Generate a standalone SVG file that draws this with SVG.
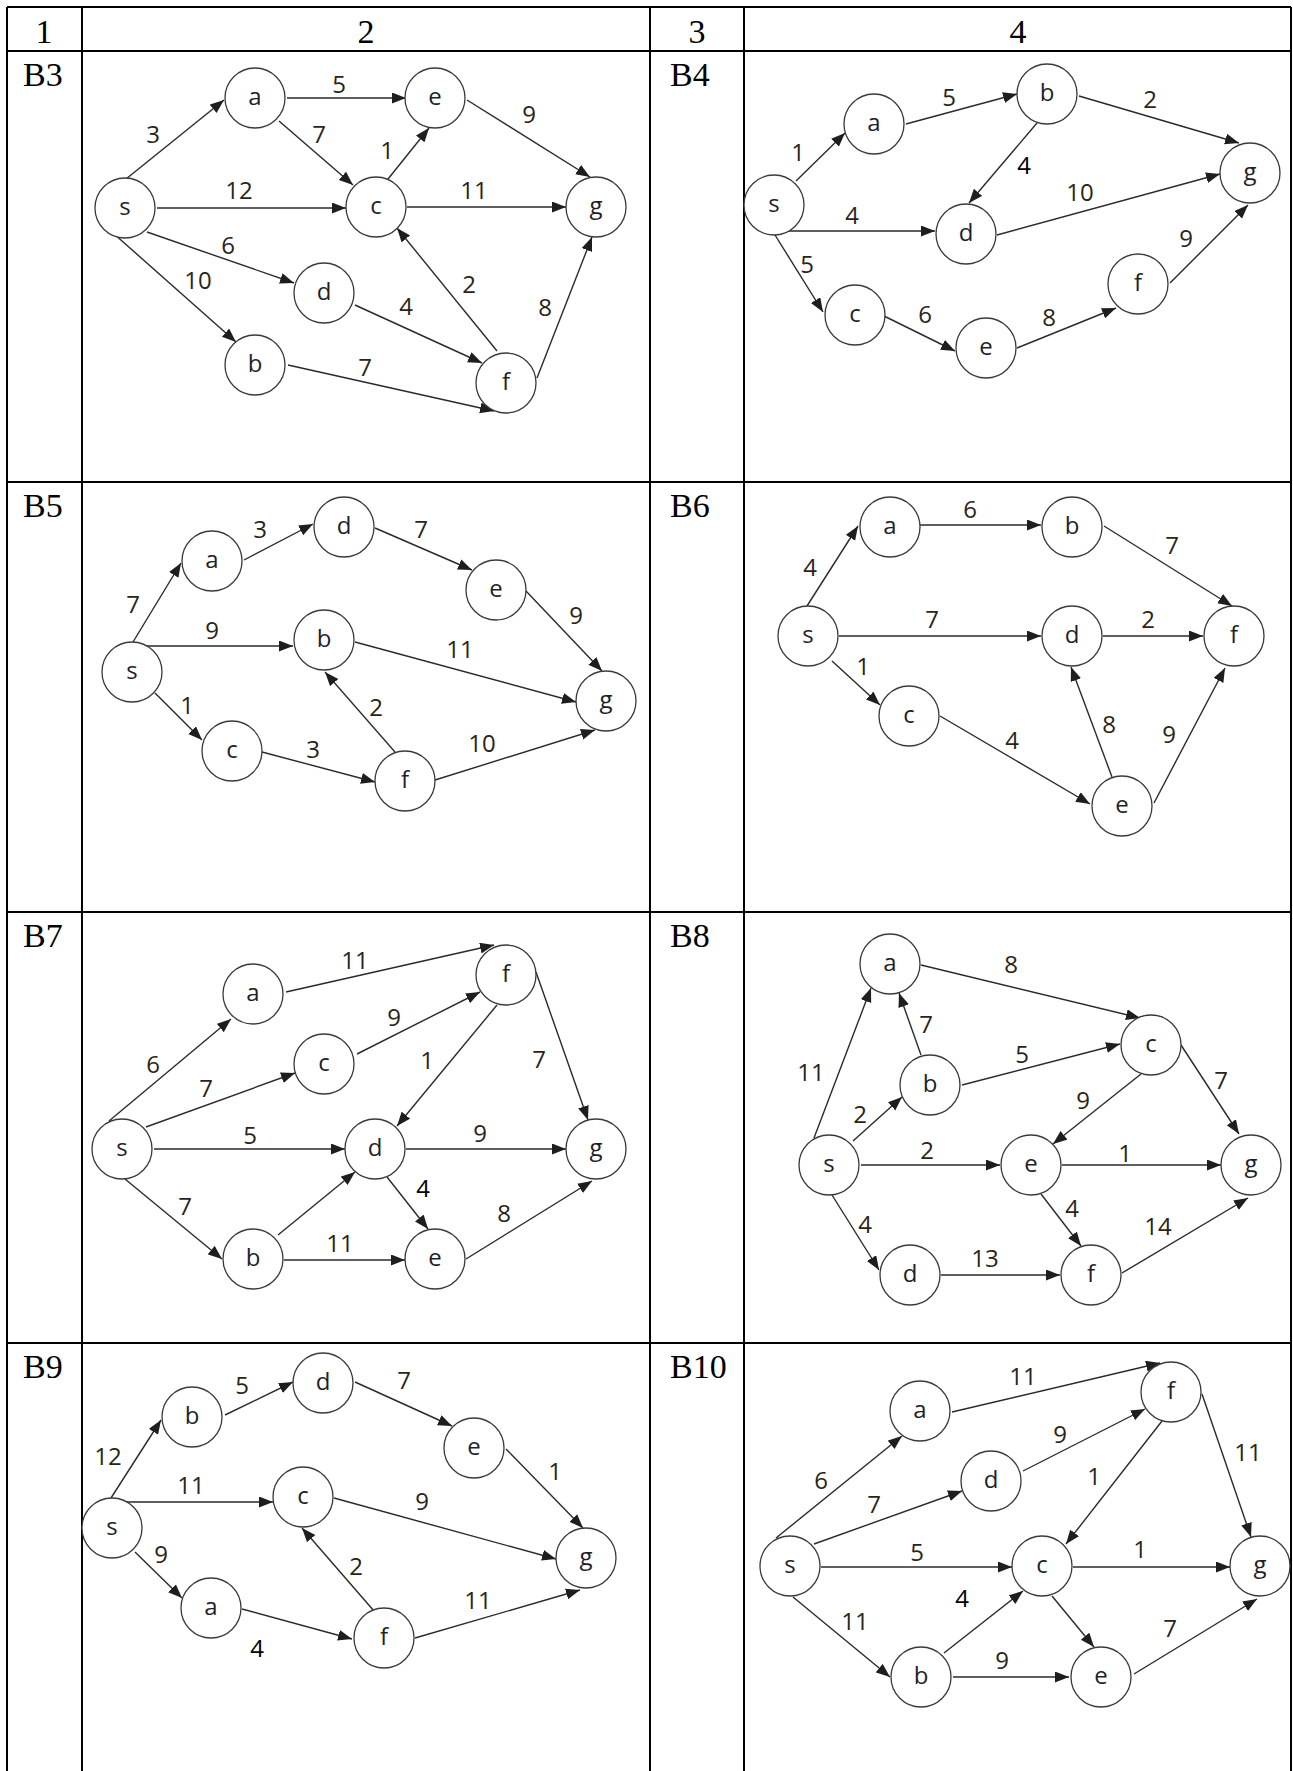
<svg xmlns="http://www.w3.org/2000/svg" width="1293" height="1771" viewBox="0 0 1293 1771">
<defs>
<marker id="arr" markerUnits="userSpaceOnUse" markerWidth="15" markerHeight="12" refX="14" refY="5.5" orient="auto"><path d="M0,0 L14,5.5 L0,11 z" fill="#1e1e1e"/></marker>
<style>
.grid{stroke:#000;stroke-width:2;fill:none}
.hd{font-family:"Liberation Serif","Times New Roman",serif;font-size:34px;fill:#000}
.node circle{fill:#fff;stroke:#3a3a3a;stroke-width:1.3}
.node text{font-family:"Open Sans","Liberation Sans",sans-serif;font-size:24px;fill:#1f1f2a;text-anchor:middle}
.edges line{stroke:#2a2a2a;stroke-width:1.4;marker-end:url(#arr)}
.lbl{font-family:"Open Sans","Liberation Sans",sans-serif;font-size:24px;fill:#2a2418;text-anchor:middle}
.lbl.k{fill:#000}
</style>
</defs>
<rect width="1293" height="1771" fill="#fff"/>
<g id="table">
<path class="grid" d="M7,7 H1291 M7,51 H1291 M7,482 H1291 M7,912 H1291 M7,1343 H1291 M7,7 V1771 M82,7 V1771 M650,7 V1771 M744,7 V1771 M1291,7 V1771"/>
<text class="hd" x="44" y="43" text-anchor="middle">1</text>
<text class="hd" x="366" y="43" text-anchor="middle">2</text>
<text class="hd" x="697" y="43" text-anchor="middle">3</text>
<text class="hd" x="1018" y="43" text-anchor="middle">4</text>
<text class="hd" x="23" y="86">B3</text>
<text class="hd" x="670" y="86">B4</text>
<text class="hd" x="23" y="517">B5</text>
<text class="hd" x="670" y="517">B6</text>
<text class="hd" x="23" y="947">B7</text>
<text class="hd" x="670" y="947">B8</text>
<text class="hd" x="23" y="1378">B9</text>
<text class="hd" x="670" y="1378">B10</text>
</g>

<!-- B3 -->
<g id="b3">
<g class="edges" id="b3-edges">
<line x1="126" y1="179" x2="224" y2="100"/>
<line x1="287" y1="98" x2="406" y2="98"/>
<line x1="279" y1="121" x2="353" y2="185"/>
<line x1="388" y1="179" x2="429" y2="128"/>
<line x1="467" y1="100" x2="590" y2="177"/>
<line x1="157" y1="208" x2="346" y2="208"/>
<line x1="407" y1="207" x2="566" y2="207"/>
<line x1="147" y1="232" x2="294" y2="283"/>
<line x1="113" y1="233" x2="236" y2="342"/>
<line x1="355" y1="305" x2="482" y2="363"/>
<line x1="497" y1="351" x2="397" y2="228"/>
<line x1="537" y1="378" x2="592" y2="237"/>
<line x1="288" y1="365" x2="494" y2="411"/>
</g>
<g id="b3-labels">
<text class="lbl" x="153" y="143">3</text>
<text class="lbl" x="339" y="93">5</text>
<text class="lbl" x="319" y="143">7</text>
<text class="lbl" x="387" y="159">1</text>
<text class="lbl" x="529" y="123">9</text>
<text class="lbl" x="239" y="199">12</text>
<text class="lbl" x="474" y="199">11</text>
<text class="lbl" x="228" y="254">6</text>
<text class="lbl" x="198" y="289">10</text>
<text class="lbl" x="406" y="315">4</text>
<text class="lbl" x="469" y="293">2</text>
<text class="lbl" x="545" y="316">8</text>
<text class="lbl" x="365" y="376">7</text>
</g>
<g class="node" id="b3-s"><circle cx="125" cy="208" r="30"/><text x="125" y="215">s</text></g>
<g class="node" id="b3-a"><circle cx="255" cy="98" r="30"/><text x="255" y="105">a</text></g>
<g class="node" id="b3-e"><circle cx="435" cy="98" r="30"/><text x="435" y="105">e</text></g>
<g class="node" id="b3-c"><circle cx="376" cy="207" r="30"/><text x="376" y="214">c</text></g>
<g class="node" id="b3-g"><circle cx="596" cy="207" r="30"/><text x="596" y="214">g</text></g>
<g class="node" id="b3-d"><circle cx="324" cy="293" r="30"/><text x="324" y="300">d</text></g>
<g class="node" id="b3-b"><circle cx="255" cy="365" r="30"/><text x="255" y="372">b</text></g>
<g class="node" id="b3-f"><circle cx="506" cy="383" r="30"/><text x="506" y="390">f</text></g>
</g>

<!-- B4 -->
<g id="b4">
<g class="edges" id="b4-edges">
<line x1="796" y1="181" x2="845" y2="133"/>
<line x1="906" y1="124" x2="1017" y2="94"/>
<line x1="1079" y1="96" x2="1239" y2="143"/>
<line x1="1037" y1="123" x2="969" y2="203"/>
<line x1="997" y1="235" x2="1220" y2="174"/>
<line x1="788" y1="231" x2="935" y2="231"/>
<line x1="775" y1="235" x2="823" y2="312"/>
<line x1="884" y1="316" x2="955" y2="351"/>
<line x1="1017" y1="348" x2="1116" y2="308"/>
<line x1="1170" y1="283" x2="1248" y2="205"/>
</g>
<g id="b4-labels">
<text class="lbl" x="798" y="161">1</text>
<text class="lbl" x="949" y="106">5</text>
<text class="lbl" x="1150" y="108">2</text>
<text class="lbl k" x="1024" y="174">4</text>
<text class="lbl" x="1080" y="201">10</text>
<text class="lbl" x="852" y="224">4</text>
<text class="lbl" x="807" y="273">5</text>
<text class="lbl" x="925" y="323">6</text>
<text class="lbl" x="1049" y="326">8</text>
<text class="lbl" x="1186" y="247">9</text>
</g>
<g class="node" id="b4-s"><circle cx="774" cy="205" r="30"/><text x="774" y="212">s</text></g>
<g class="node" id="b4-a"><circle cx="874" cy="124" r="30"/><text x="874" y="131">a</text></g>
<g class="node" id="b4-b"><circle cx="1047" cy="94" r="30"/><text x="1047" y="101">b</text></g>
<g class="node" id="b4-g"><circle cx="1250" cy="173" r="30"/><text x="1250" y="180">g</text></g>
<g class="node" id="b4-d"><circle cx="966" cy="234" r="30"/><text x="966" y="241">d</text></g>
<g class="node" id="b4-c"><circle cx="855" cy="315" r="30"/><text x="855" y="322">c</text></g>
<g class="node" id="b4-e"><circle cx="986" cy="348" r="30"/><text x="986" y="355">e</text></g>
<g class="node" id="b4-f"><circle cx="1138" cy="284" r="30"/><text x="1138" y="291">f</text></g>
</g>

<!-- B5 -->
<g id="b5">
<g class="edges" id="b5-edges">
<line x1="133" y1="642" x2="181" y2="563"/>
<line x1="244" y1="560" x2="313" y2="524"/>
<line x1="375" y1="528" x2="472" y2="570"/>
<line x1="526" y1="591" x2="602" y2="671"/>
<line x1="146" y1="646" x2="293" y2="646"/>
<line x1="355" y1="642" x2="576" y2="702"/>
<line x1="155" y1="693" x2="202" y2="740"/>
<line x1="262" y1="752" x2="375" y2="782"/>
<line x1="395" y1="752" x2="325" y2="672"/>
<line x1="435" y1="780" x2="595" y2="730"/>
</g>
<g id="b5-labels">
<text class="lbl" x="133" y="613">7</text>
<text class="lbl" x="260" y="538">3</text>
<text class="lbl" x="421" y="538">7</text>
<text class="lbl" x="576" y="624">9</text>
<text class="lbl" x="212" y="639">9</text>
<text class="lbl" x="460" y="658">11</text>
<text class="lbl" x="187" y="714">1</text>
<text class="lbl" x="313" y="758">3</text>
<text class="lbl" x="376" y="716">2</text>
<text class="lbl" x="482" y="752">10</text>
</g>
<g class="node" id="b5-s"><circle cx="132" cy="672" r="30"/><text x="132" y="679">s</text></g>
<g class="node" id="b5-a"><circle cx="212" cy="561" r="30"/><text x="212" y="568">a</text></g>
<g class="node" id="b5-d"><circle cx="344" cy="527" r="30"/><text x="344" y="534">d</text></g>
<g class="node" id="b5-e"><circle cx="496" cy="590" r="30"/><text x="496" y="597">e</text></g>
<g class="node" id="b5-b"><circle cx="324" cy="640" r="30"/><text x="324" y="647">b</text></g>
<g class="node" id="b5-g"><circle cx="606" cy="701" r="30"/><text x="606" y="708">g</text></g>
<g class="node" id="b5-c"><circle cx="232" cy="751" r="30"/><text x="232" y="758">c</text></g>
<g class="node" id="b5-f"><circle cx="405" cy="781" r="30"/><text x="405" y="788">f</text></g>
</g>

<!-- B6 -->
<g id="b6">
<g class="edges" id="b6-edges">
<line x1="807" y1="606" x2="858" y2="526"/>
<line x1="920" y1="525" x2="1041" y2="525"/>
<line x1="1104" y1="526" x2="1232" y2="606"/>
<line x1="839" y1="636" x2="1041" y2="636"/>
<line x1="1103" y1="636" x2="1203" y2="636"/>
<line x1="832" y1="661" x2="880" y2="705"/>
<line x1="940" y1="716" x2="1090" y2="804"/>
<line x1="1112" y1="777" x2="1071" y2="667"/>
<line x1="1154" y1="803" x2="1225" y2="668"/>
</g>
<g id="b6-labels">
<text class="lbl" x="810" y="576">4</text>
<text class="lbl" x="970" y="518">6</text>
<text class="lbl" x="1172" y="554">7</text>
<text class="lbl" x="932" y="628">7</text>
<text class="lbl" x="1148" y="628">2</text>
<text class="lbl" x="863" y="675">1</text>
<text class="lbl" x="1012" y="749">4</text>
<text class="lbl" x="1109" y="733">8</text>
<text class="lbl" x="1169" y="743">9</text>
</g>
<g class="node" id="b6-s"><circle cx="808" cy="636" r="30"/><text x="808" y="643">s</text></g>
<g class="node" id="b6-a"><circle cx="890" cy="527" r="30"/><text x="890" y="534">a</text></g>
<g class="node" id="b6-b"><circle cx="1072" cy="527" r="30"/><text x="1072" y="534">b</text></g>
<g class="node" id="b6-d"><circle cx="1072" cy="636" r="30"/><text x="1072" y="643">d</text></g>
<g class="node" id="b6-f"><circle cx="1234" cy="636" r="30"/><text x="1234" y="643">f</text></g>
<g class="node" id="b6-c"><circle cx="909" cy="716" r="30"/><text x="909" y="723">c</text></g>
<g class="node" id="b6-e"><circle cx="1122" cy="806" r="30"/><text x="1122" y="813">e</text></g>
</g>

<!-- B7 -->
<g id="b7">
<g class="edges" id="b7-edges">
<line x1="109" y1="1121" x2="231" y2="1019"/>
<line x1="146" y1="1127" x2="295" y2="1073"/>
<line x1="286" y1="992" x2="494" y2="945"/>
<line x1="357" y1="1054" x2="480" y2="992"/>
<line x1="497" y1="1005" x2="397" y2="1126"/>
<line x1="536" y1="972" x2="588" y2="1120"/>
<line x1="154" y1="1149" x2="345" y2="1149"/>
<line x1="406" y1="1149" x2="566" y2="1149"/>
<line x1="387" y1="1177" x2="428" y2="1229"/>
<line x1="125" y1="1179" x2="222" y2="1259"/>
<line x1="278" y1="1235" x2="355" y2="1172"/>
<line x1="284" y1="1260" x2="405" y2="1260"/>
<line x1="466" y1="1259" x2="592" y2="1181"/>
</g>
<g id="b7-labels">
<text class="lbl" x="153" y="1073">6</text>
<text class="lbl" x="206" y="1097">7</text>
<text class="lbl" x="355" y="969">11</text>
<text class="lbl" x="394" y="1026">9</text>
<text class="lbl" x="427" y="1069">1</text>
<text class="lbl" x="539" y="1068">7</text>
<text class="lbl" x="250" y="1144">5</text>
<text class="lbl" x="480" y="1142">9</text>
<text class="lbl k" x="423" y="1197">4</text>
<text class="lbl" x="185" y="1215">7</text>
<text class="lbl" x="340" y="1252">11</text>
<text class="lbl" x="504" y="1222">8</text>
</g>
<g class="node" id="b7-s"><circle cx="122" cy="1149" r="30"/><text x="122" y="1156">s</text></g>
<g class="node" id="b7-a"><circle cx="253" cy="994" r="30"/><text x="253" y="1001">a</text></g>
<g class="node" id="b7-c"><circle cx="324" cy="1064" r="30"/><text x="324" y="1071">c</text></g>
<g class="node" id="b7-f"><circle cx="506" cy="975" r="30"/><text x="506" y="982">f</text></g>
<g class="node" id="b7-d"><circle cx="375" cy="1149" r="30"/><text x="375" y="1156">d</text></g>
<g class="node" id="b7-g"><circle cx="596" cy="1149" r="30"/><text x="596" y="1156">g</text></g>
<g class="node" id="b7-b"><circle cx="253" cy="1259" r="30"/><text x="253" y="1266">b</text></g>
<g class="node" id="b7-e"><circle cx="435" cy="1259" r="30"/><text x="435" y="1266">e</text></g>
</g>

<!-- B8 -->
<g id="b8">
<g class="edges" id="b8-edges">
<line x1="814" y1="1138" x2="871" y2="988"/>
<line x1="921" y1="1055" x2="899" y2="993"/>
<line x1="921" y1="965" x2="1140" y2="1018"/>
<line x1="853" y1="1141" x2="902" y2="1097"/>
<line x1="962" y1="1085" x2="1120" y2="1044"/>
<line x1="1141" y1="1074" x2="1053" y2="1144"/>
<line x1="1181" y1="1045" x2="1239" y2="1134"/>
<line x1="861" y1="1165" x2="1000" y2="1165"/>
<line x1="1062" y1="1165" x2="1221" y2="1165"/>
<line x1="1041" y1="1194" x2="1081" y2="1246"/>
<line x1="832" y1="1195" x2="879" y2="1270"/>
<line x1="941" y1="1275" x2="1060" y2="1275"/>
<line x1="1122" y1="1273" x2="1248" y2="1198"/>
</g>
<g id="b8-labels">
<text class="lbl" x="811" y="1081">11</text>
<text class="lbl" x="926" y="1033">7</text>
<text class="lbl" x="1011" y="973">8</text>
<text class="lbl" x="860" y="1123">2</text>
<text class="lbl" x="1022" y="1063">5</text>
<text class="lbl" x="1083" y="1109">9</text>
<text class="lbl" x="1221" y="1089">7</text>
<text class="lbl" x="927" y="1159">2</text>
<text class="lbl" x="1125" y="1162">1</text>
<text class="lbl" x="1072" y="1217">4</text>
<text class="lbl" x="865" y="1233">4</text>
<text class="lbl" x="985" y="1267">13</text>
<text class="lbl" x="1158" y="1235">14</text>
</g>
<g class="node" id="b8-a"><circle cx="890" cy="964" r="30"/><text x="890" y="971">a</text></g>
<g class="node" id="b8-b"><circle cx="930" cy="1085" r="30"/><text x="930" y="1092">b</text></g>
<g class="node" id="b8-c"><circle cx="1151" cy="1045" r="30"/><text x="1151" y="1052">c</text></g>
<g class="node" id="b8-s"><circle cx="829" cy="1165" r="30"/><text x="829" y="1172">s</text></g>
<g class="node" id="b8-e"><circle cx="1031" cy="1165" r="30"/><text x="1031" y="1172">e</text></g>
<g class="node" id="b8-g"><circle cx="1251" cy="1165" r="30"/><text x="1251" y="1172">g</text></g>
<g class="node" id="b8-d"><circle cx="910" cy="1275" r="30"/><text x="910" y="1282">d</text></g>
<g class="node" id="b8-f"><circle cx="1091" cy="1275" r="30"/><text x="1091" y="1282">f</text></g>
</g>

<!-- B9 -->
<g id="b9">
<g class="edges" id="b9-edges">
<line x1="111" y1="1498" x2="161" y2="1420"/>
<line x1="225" y1="1415" x2="293" y2="1382"/>
<line x1="355" y1="1382" x2="452" y2="1426"/>
<line x1="506" y1="1449" x2="583" y2="1528"/>
<line x1="124" y1="1502" x2="273" y2="1502"/>
<line x1="334" y1="1498" x2="556" y2="1559"/>
<line x1="135" y1="1552" x2="182" y2="1598"/>
<line x1="242" y1="1609" x2="352" y2="1639"/>
<line x1="374" y1="1611" x2="302" y2="1528"/>
<line x1="415" y1="1638" x2="580" y2="1590"/>
</g>
<g id="b9-labels">
<text class="lbl" x="108" y="1465">12</text>
<text class="lbl" x="242" y="1394">5</text>
<text class="lbl" x="404" y="1389">7</text>
<text class="lbl" x="555" y="1480">1</text>
<text class="lbl" x="191" y="1494">11</text>
<text class="lbl" x="422" y="1510">9</text>
<text class="lbl" x="161" y="1563">9</text>
<text class="lbl k" x="257" y="1657">4</text>
<text class="lbl" x="356" y="1575">2</text>
<text class="lbl" x="478" y="1609">11</text>
</g>
<g class="node" id="b9-s"><circle cx="112" cy="1528" r="30"/><text x="112" y="1535">s</text></g>
<g class="node" id="b9-b"><circle cx="192" cy="1417" r="30"/><text x="192" y="1424">b</text></g>
<g class="node" id="b9-d"><circle cx="323" cy="1383" r="30"/><text x="323" y="1390">d</text></g>
<g class="node" id="b9-e"><circle cx="474" cy="1448" r="30"/><text x="474" y="1455">e</text></g>
<g class="node" id="b9-c"><circle cx="303" cy="1497" r="30"/><text x="303" y="1504">c</text></g>
<g class="node" id="b9-g"><circle cx="586" cy="1558" r="30"/><text x="586" y="1565">g</text></g>
<g class="node" id="b9-a"><circle cx="211" cy="1608" r="30"/><text x="211" y="1615">a</text></g>
<g class="node" id="b9-f"><circle cx="384" cy="1638" r="30"/><text x="384" y="1645">f</text></g>
</g>

<!-- B10 -->
<g id="b10">
<g class="edges" id="b10-edges">
<line x1="776" y1="1538" x2="902" y2="1436"/>
<line x1="814" y1="1544" x2="962" y2="1491"/>
<line x1="952" y1="1412" x2="1160" y2="1363"/>
<line x1="1023" y1="1471" x2="1145" y2="1409"/>
<line x1="1162" y1="1421" x2="1066" y2="1544"/>
<line x1="1202" y1="1394" x2="1251" y2="1537"/>
<line x1="821" y1="1567" x2="1012" y2="1567"/>
<line x1="1073" y1="1567" x2="1230" y2="1567"/>
<line x1="1052" y1="1596" x2="1094" y2="1647"/>
<line x1="793" y1="1597" x2="890" y2="1677"/>
<line x1="944" y1="1653" x2="1023" y2="1591"/>
<line x1="953" y1="1677" x2="1069" y2="1677"/>
<line x1="1134" y1="1674" x2="1257" y2="1599"/>
</g>
<g id="b10-labels">
<text class="lbl" x="821" y="1489">6</text>
<text class="lbl" x="874" y="1513">7</text>
<text class="lbl" x="1023" y="1385">11</text>
<text class="lbl" x="1060" y="1443">9</text>
<text class="lbl" x="1094" y="1485">1</text>
<text class="lbl" x="1248" y="1461">11</text>
<text class="lbl" x="917" y="1561">5</text>
<text class="lbl" x="1140" y="1558">1</text>
<text class="lbl" x="855" y="1630">11</text>
<text class="lbl k" x="962" y="1607">4</text>
<text class="lbl" x="1002" y="1669">9</text>
<text class="lbl" x="1170" y="1637">7</text>
</g>
<g class="node" id="b10-a"><circle cx="920" cy="1411" r="30"/><text x="920" y="1418">a</text></g>
<g class="node" id="b10-f"><circle cx="1171" cy="1392" r="30"/><text x="1171" y="1399">f</text></g>
<g class="node" id="b10-d"><circle cx="991" cy="1481" r="30"/><text x="991" y="1488">d</text></g>
<g class="node" id="b10-s"><circle cx="790" cy="1566" r="30"/><text x="790" y="1573">s</text></g>
<g class="node" id="b10-c"><circle cx="1042" cy="1566" r="30"/><text x="1042" y="1573">c</text></g>
<g class="node" id="b10-g"><circle cx="1260" cy="1566" r="30"/><text x="1260" y="1573">g</text></g>
<g class="node" id="b10-b"><circle cx="921" cy="1677" r="30"/><text x="921" y="1684">b</text></g>
<g class="node" id="b10-e"><circle cx="1101" cy="1677" r="30"/><text x="1101" y="1684">e</text></g>
</g>
</svg>
